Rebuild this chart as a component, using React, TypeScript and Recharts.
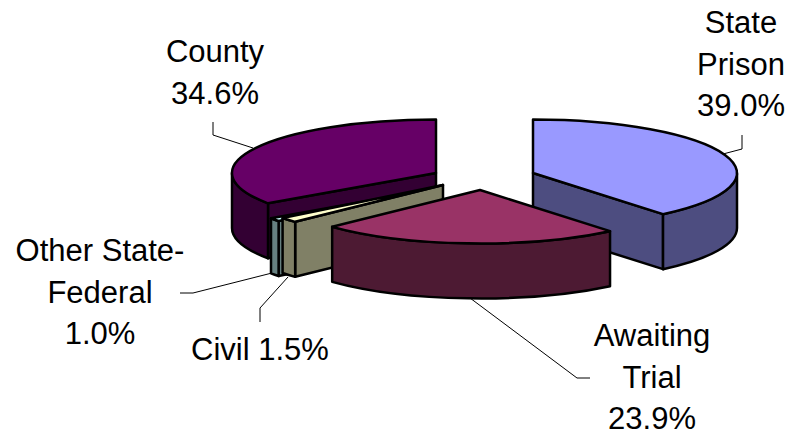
import { Pie, PieChart } from 'recharts';

const names = ['State Prison', 'Awaiting Trial', 'Civil', 'Other State-Federal', 'County'];
const shares = [39.0, 23.9, 1.5, 1.0, 34.6];
const labelLines = [['State', 'Prison', '39.0%'], ['Awaiting', 'Trial', '23.9%'], ['Civil 1.5%'], ['Other State-', 'Federal', '1.0%'], ['County', '34.6%']];

const topColors = ['#9999FF', '#993366', '#FFFFCC', '#CCFFFF', '#660066'];
const sideColors = ['#4D4D80', '#4D1A33', '#808066', '#668080', '#330033'];
const explode = [[97, 1], [44, 18], [7, 13], [3, 16], [0, 1]];
const labelAnchor = [[741, 33], [652, 346], [260, 360], [100, 261], [215, 62]];
const leaders = [
  '742,135 742,149 723,154',
  '470,298 577,378 590,378',
  '260,322 260,308 288,277',
  '180,293 193,293 272,273',
  '213,122 213,135 253,148',
];
// back to front, the way the slices overlap
const drawOrder = ['County', 'Other State-Federal', 'Civil', 'State Prison', 'Awaiting Trial'];

const tableData = names.map((name, i) => ({ name, value: shares[i] }));

const TILT = 0.262;
const DEPTH = 55;
const LINE_HEIGHT = 41.5;

function Slice(props: any) {
  const i = names.indexOf(props.payload.name);
  const ax = props.cx + explode[i][0];
  const ay = props.cy + explode[i][1];
  const rx = props.outerRadius;
  const ry = rx * TILT;
  // degrees clockwise from 12 o'clock
  const s = 90 - props.startAngle;
  const e = 90 - props.endAngle;
  const pt = (t: number, down = 0) => {
    const a = (t * Math.PI) / 180;
    return [ax + rx * Math.sin(a), ay - ry * Math.cos(a) + down];
  };
  const arc = (from: number, to: number, down = 0) => {
    const p = pt(to, down);
    return `A${rx} ${ry} 0 ${to - from > 180 ? 1 : 0} 1 ${p[0]} ${p[1]}`;
  };
  const face = (t: number) => {
    const p = pt(t);
    return `M${ax} ${ay}L${p[0]} ${p[1]}L${p[0]} ${p[1] + DEPTH}L${ax} ${ay + DEPTH}Z`;
  };
  const line = { stroke: '#000', strokeWidth: 2.5, strokeLinejoin: 'round' as const };
  const side = { fill: sideColors[i], ...line };

  const frontFrom = Math.max(s, 90);
  const frontTo = Math.min(e, 270);
  const p0 = pt(frontFrom);
  const p1 = pt(frontTo, DEPTH);
  const topStart = pt(s);

  return (
    <g>
      {s > 180 && s < 360 && <path d={face(s)} {...side} />}
      {e > 0 && e < 180 && <path d={face(e)} {...side} />}
      {frontTo > frontFrom && (
        <path
          d={`M${p0[0]} ${p0[1]}${arc(frontFrom, frontTo)}L${p1[0]} ${p1[1]}A${rx} ${ry} 0 0 0 ${p0[0]} ${p0[1] + DEPTH}Z`}
          {...side}
        />
      )}
      <path d={`M${ax} ${ay}L${topStart[0]} ${topStart[1]}${arc(s, e)}Z`} fill={topColors[i]} {...line} />
    </g>
  );
}

function SliceLabel(props: any) {
  const i = names.indexOf(props.payload.name);
  return (
    <g>
      <polyline points={leaders[i]} fill="none" stroke="#000" strokeWidth={1} />
      <text textAnchor="middle" fontFamily="Liberation Sans" fontSize={31} fill="#000">
        {labelLines[i].map((t, k) => (
          <tspan key={t} x={labelAnchor[i][0]} y={labelAnchor[i][1] + k * LINE_HEIGHT}>
            {t}
          </tspan>
        ))}
      </text>
    </g>
  );
}

export default function App() {
  return (
    <div style={{ position: 'absolute', left: 0, top: 0 }}>
      <PieChart width={799} height={432} margin={{ top: 0, right: 0, bottom: 0, left: 0 }}>
        {drawOrder.map((layer) => (
          <Pie
            key={layer}
            data={tableData}
            dataKey="value"
            nameKey="name"
            cx={436}
            cy={172}
            innerRadius={0}
            outerRadius={204}
            startAngle={90}
            endAngle={-270}
            stroke="none"
            isAnimationActive={false}
            shape={(p: any) => (p.payload.name === layer ? <Slice {...p} /> : <g />)}
            label={layer === 'Awaiting Trial' ? SliceLabel : false}
            labelLine={false}
          />
        ))}
      </PieChart>
    </div>
  );
}
